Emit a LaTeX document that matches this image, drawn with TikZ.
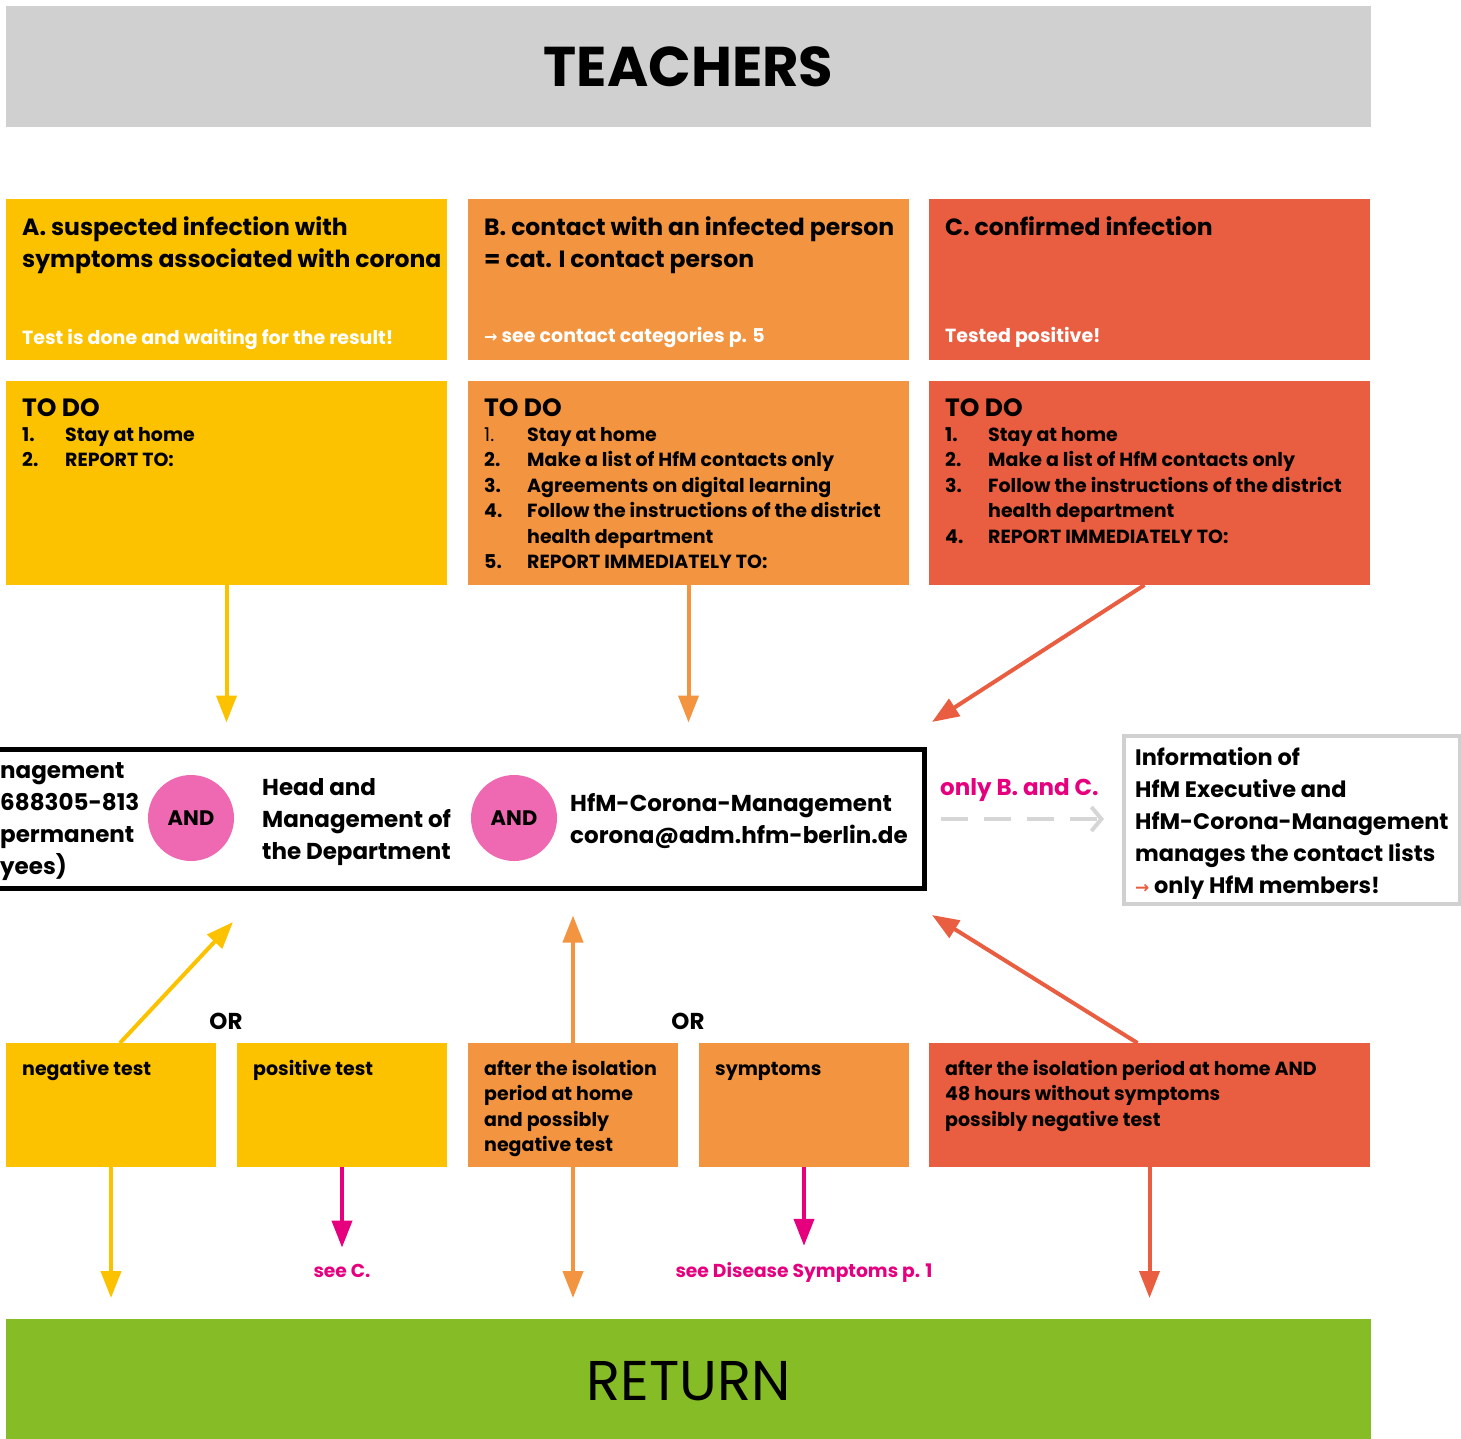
\documentclass[tikz,border=0pt]{standalone}
\usepackage{fontspec}
\setmainfont{Poppins}
\newfontfamily\arrowfont{DejaVu Sans}
\usetikzlibrary{arrows.meta, positioning}
\definecolor{hfmgray}{HTML}{D0D0D0}
\definecolor{hfmyellow}{HTML}{FCC200}
\definecolor{hfmorange}{HTML}{F39540}
\definecolor{hfmred}{HTML}{E95D40}
\definecolor{hfmgreen}{HTML}{86BC25}
\definecolor{hfmmagenta}{HTML}{E6007E}
\definecolor{hfmpink}{HTML}{EF68B2}
\definecolor{hfmlight}{HTML}{D6D6D6}
\newcommand{\itemno}[1]{\makebox[43pt][l]{#1}}

\begin{document}
\begin{tikzpicture}[x=1pt, y=-1pt,
      panel/.style={anchor=north west, inner sep=0pt, outer sep=0pt},
      heading/.style={anchor=base west, align=left, inner sep=0pt, font=\fontsize{23.5}{32}\selectfont\bfseries},
      todohead/.style={heading, font=\fontsize{25}{32}\selectfont\bfseries},
      body/.style={anchor=base west, align=left, inner sep=0pt, font=\fontsize{19}{25.5}\selectfont\bfseries},
      note/.style={anchor=base west, inner sep=0pt, text=white, font=\fontsize{19}{22}\selectfont\bfseries},
      big/.style={anchor=base west, align=left, inner sep=0pt, font=\fontsize{23}{32}\selectfont\bfseries},
      pinklabel/.style={anchor=base, inner sep=0pt, text=hfmmagenta, font=\fontsize{18.7}{22}\selectfont\bfseries},
      flow/.style={line width=4pt, -{Triangle[width=20pt, length=27pt]}},
      andnode/.style={circle, fill=hfmpink, minimum size=86pt, inner sep=0pt, font=\fontsize{21}{24}\selectfont\bfseries}
    ]

    \useasboundingbox (0,0) rectangle (1461,1438);

    % Header and footer
    \node[panel, fill=hfmgray, minimum width=1365pt, minimum height=121pt, font=\fontsize{56}{60}\selectfont\bfseries] (teachers) at (6,6) {TEACHERS};
    \node[panel, fill=hfmgreen, minimum width=1365pt, minimum height=125pt, font=\fontsize{56}{60}\selectfont] (return) at (6,1319) {RETURN};

    % Cases (base = last line)
    \node[panel, fill=hfmyellow, minimum width=441pt, minimum height=161pt] (casea) at (6,199) {};
    \node[heading] (caseatitle) at (22,267) {A. suspected infection with\\symptoms associated with corona};
    \node[note] (caseanote) at (22,344) {Test is done and waiting for the result!};

    \node[panel, fill=hfmorange, minimum width=441pt, minimum height=161pt] (caseb) at (468,199) {};
    \node[heading] (casebtitle) at (484,267) {B. contact with an infected person\\= cat. I contact person};
    \node[note] (casebnote) at (484,342) {{\arrowfont\fontsize{16}{16}\selectfont →} see contact categories p. 5};

    \node[panel, fill=hfmred, minimum width=441pt, minimum height=161pt] (casec) at (929,199) {};
    \node[heading] (casectitle) at (945,235) {C. confirmed infection};
    \node[note] (casecnote) at (945,342) {Tested positive!};

    % To do lists
    \node[panel, fill=hfmyellow, minimum width=441pt, minimum height=204pt] (todoa) at (6,381) {};
    \node[todohead] (todoahead) at (22,416) {TO DO};
    \node[body] (todoalist) at (22,466.5) {\itemno{1.}Stay at home\\\itemno{2.}REPORT TO:};

    \node[panel, fill=hfmorange, minimum width=441pt, minimum height=204pt] (todob) at (468,381) {};
    \node[todohead] (todobhead) at (484,416) {TO DO};
    \node[body] (todoblist) at (484,568.5) {\itemno{\mdseries 1.}Stay at home\\\itemno{2.}Make a list of HfM contacts only\\\itemno{3.}Agreements on digital learning\\\itemno{4.}Follow the instructions of the district\\\itemno{}health department\\\itemno{5.}REPORT IMMEDIATELY TO:};

    \node[panel, fill=hfmred, minimum width=441pt, minimum height=204pt] (todoc) at (929,381) {};
    \node[todohead] (todochead) at (945,416) {TO DO};
    \node[body] (todoclist) at (945,543) {\itemno{1.}Stay at home\\\itemno{2.}Make a list of HfM contacts only\\\itemno{3.}Follow the instructions of the district\\\itemno{}health department\\\itemno{4.}REPORT IMMEDIATELY TO:};

    % Contacts
    \node[panel, draw, line width=5pt, minimum width=964pt, minimum height=139pt] (contacts) at (-40,749.5) {};
    \node[big] (personnel) at (0,874) {nagement\\688305-813\\permanent\\yees)};
    \node[andnode] (andone) at (191,818) {AND};
    \node[big] (head) at (262,859) {Head and\\Management of\\the Department};
    \node[andnode] (andtwo) at (514,818) {AND};
    \node[big] (corona) at (570,843) {HfM-Corona-Management\\corona@adm.hfm-berlin.de};

    \node[panel, draw=hfmgray, line width=4pt, minimum width=336pt, minimum height=168pt] (info) at (1124,736) {};
    \node[big, font=\fontsize{22.4}{32}\selectfont\bfseries] (infotext) at (1135,893) {Information of\\HfM Executive and\\HfM-Corona-Management\\manages the contact lists\\{\color{hfmred}\arrowfont\fontsize{17}{17}\selectfont →} only HfM members!};
    \node[big, text=hfmmagenta] (onlybc) at (940,795) {only B. and C.};

    % Results
    \node[panel, fill=hfmyellow, minimum width=210pt, minimum height=124pt] (negtest) at (6,1043) {};
    \node[body] (negtesttext) at (22,1075) {negative test};
    \node[panel, fill=hfmyellow, minimum width=210pt, minimum height=124pt] (postest) at (237,1043) {};
    \node[body] (postesttext) at (253,1075) {positive test};
    \node[panel, fill=hfmorange, minimum width=210pt, minimum height=124pt] (afteriso) at (468,1043) {};
    \node[body] (afterisotext) at (484,1151.5) {after the isolation\\period at home\\and possibly\\negative test};
    \node[panel, fill=hfmorange, minimum width=210pt, minimum height=124pt] (symptoms) at (699,1043) {};
    \node[body] (symptomstext) at (715,1075) {symptoms};
    \node[panel, fill=hfmred, minimum width=441pt, minimum height=124pt] (afterred) at (929,1043) {};
    \node[body] (afterredtext) at (945,1126) {after the isolation period at home AND\\48 hours without symptoms\\possibly negative test};

    \node[big, anchor=base] (orone) at (226,1029) {OR};
    \node[big, anchor=base] (ortwo) at (688,1029) {OR};
    \node[pinklabel] (seec) at (342,1277) {see C.};
    \node[pinklabel] (seesymptoms) at (804,1277) {see Disease Symptoms p. 1};

    % Arrows
    \coordinate (tipc) at (932,722);
    \coordinate (tipneg) at (233,922);
    \coordinate (tipred) at (932,915);

    \draw[flow, hfmyellow] (todoa.south) -- ([yshift=27pt]todoa.south |- contacts.north);
    \draw[flow, hfmorange] (todob.south) -- ([yshift=27pt]todob.south |- contacts.north);
    \draw[flow, hfmred] ([xshift=-5pt]todoc.south) -- (tipc);

    \draw[hfmlight, line width=4pt, dash pattern=on 27pt off 16pt, -{Straight Barb[length=10pt, width=24pt, line width=4pt]}] ([xshift=17pt]contacts.east) -- ([xshift=-20pt]info.west |- contacts.east);

    \draw[flow, hfmyellow] ([xshift=9pt]negtest.north) -- (tipneg);
    \draw[flow, hfmorange] (afteriso.north) -- ([yshift=-27pt]afteriso.north |- contacts.south);
    \draw[flow, hfmred] ([xshift=-12pt]afterred.north) -- (tipred);

    \draw[flow, hfmyellow] (negtest.south) -- ([yshift=21pt]negtest.south |- return.north);
    \draw[flow, hfmmagenta, shorten >=16pt] (postest.south) -- (seec.north);
    \draw[flow, hfmorange] (afteriso.south) -- ([yshift=21pt]afteriso.south |- return.north);
    \draw[flow, hfmmagenta, shorten >=16pt] (symptoms.south) -- (symptoms.south |- seesymptoms.north);
    \draw[flow, hfmred] (afterred.south) -- ([yshift=21pt]afterred.south |- return.north);

  \end{tikzpicture}
\end{document}
